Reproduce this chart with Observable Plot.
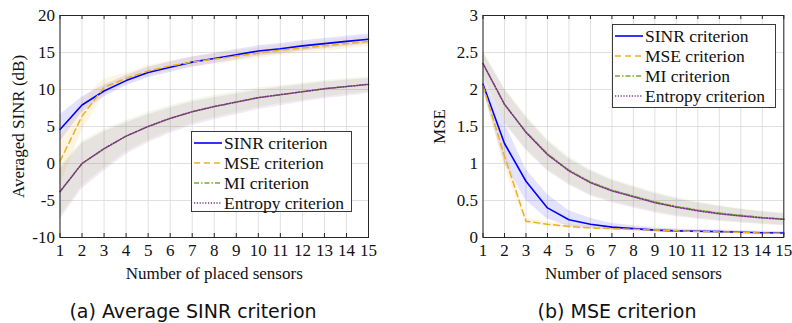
<!DOCTYPE html>
<html>
<head>
<meta charset="utf-8">
<script src="https://cdn.jsdelivr.net/npm/d3@7"></script>
<script src="https://cdn.jsdelivr.net/npm/@observablehq/plot@0.6"></script>
<style>
  html, body { margin: 0; padding: 0; background: #fff; }
  #wrap { position: relative; width: 792px; height: 323px; overflow: hidden; background: #fff; }
  .panel { position: absolute; top: 0; }
  .legend { position: absolute; background: #fff; border: 1px solid #3a3a3a; font-family: 'Liberation Serif'; font-size: 17.5px; color: #111; padding: 1px 3px 1px 2px; box-sizing: border-box; }
  .legend .row { display: flex; align-items: center; height: 20px; white-space: nowrap; }
  .legend svg { margin-right: 2px; }
  .caption { position: absolute; font-family: 'DejaVu Sans'; font-size: 19px; color: #111; white-space: nowrap; transform: translateX(-50%); }
</style>
</head>
<body>
<div id="wrap"></div>
<script>
// ---- data ----
const sensors = [1, 2, 3, 4, 5, 6, 7, 8, 9, 10, 11, 12, 13, 14, 15];
const seriesNames = ["SINR criterion", "MSE criterion", "MI criterion", "Entropy criterion"];
const seriesColors = ["#0000ff", "#edb120", "#77ac30", "#7e2f8e"];

// (a) Average SINR (dB)
const sinrA      = [4.6, 7.9, 9.8, 11.2, 12.3, 13.0, 13.7, 14.2, 14.7, 15.2, 15.5, 15.9, 16.2, 16.5, 16.8];
const sinrA_lo   = [2.9, 6.9, 9.0, 10.5, 11.6, 12.3, 13.0, 13.5, 14.0, 14.5, 14.8, 15.2, 15.5, 15.8, 16.1];
const sinrA_hi   = [6.6, 9.0, 10.6, 11.9, 13.0, 13.7, 14.4, 14.9, 15.4, 15.9, 16.2, 16.6, 16.9, 17.2, 17.5];
const mseA       = [0.3, 6.4, 10.3, 11.5, 12.5, 13.2, 13.7, 14.1, 14.5, 14.9, 15.3, 15.6, 15.9, 16.2, 16.5];
const mseA_lo    = [-3.0, 4.5, 9.3, 10.8, 11.8, 12.5, 13.0, 13.4, 13.8, 14.2, 14.6, 14.9, 15.2, 15.5, 15.8];
const mseA_hi    = [3.5, 8.6, 11.4, 12.2, 13.2, 13.9, 14.4, 14.8, 15.2, 15.6, 16.0, 16.3, 16.6, 16.9, 17.2];
const miA        = [-3.8, 0.0, 2.0, 3.7, 5.0, 6.1, 7.0, 7.7, 8.3, 8.9, 9.3, 9.7, 10.1, 10.4, 10.7];
const miA_lo     = [-7.2, -3.0, -0.6, 1.6, 3.1, 4.4, 5.4, 6.2, 6.9, 7.6, 8.1, 8.55, 9.0, 9.35, 9.7];
const miA_hi     = [-0.4, 3.0, 4.6, 5.8, 6.9, 7.8, 8.6, 9.2, 9.7, 10.2, 10.5, 10.85, 11.2, 11.45, 11.7];
const entA       = [-3.8, 0.0, 2.0, 3.7, 5.0, 6.1, 7.0, 7.7, 8.3, 8.9, 9.3, 9.7, 10.1, 10.4, 10.7];
const entA_lo    = [-7.6, -3.4, -1.0, 1.2, 2.8, 4.1, 5.1, 5.9, 6.6, 7.3, 7.8, 8.3, 8.75, 9.1, 9.5];
const entA_hi    = [-0.8, 2.7, 4.3, 5.5, 6.6, 7.5, 8.3, 8.9, 9.4, 9.9, 10.3, 10.65, 11.0, 11.25, 11.5];

// (b) MSE
const sinrB      = [2.07, 1.27, 0.76, 0.40, 0.24, 0.18, 0.14, 0.12, 0.10, 0.09, 0.085, 0.08, 0.07, 0.065, 0.06];
const sinrB_lo   = [2.00, 1.00, 0.50, 0.25, 0.15, 0.12, 0.10, 0.09, 0.075, 0.07, 0.065, 0.06, 0.055, 0.05, 0.045];
const sinrB_hi   = [2.15, 1.55, 0.92, 0.58, 0.36, 0.26, 0.19, 0.16, 0.13, 0.115, 0.105, 0.10, 0.09, 0.085, 0.08];
const mseB       = [2.05, 1.10, 0.22, 0.18, 0.15, 0.13, 0.12, 0.11, 0.10, 0.09, 0.08, 0.075, 0.07, 0.06, 0.055];
const mseB_lo    = [2.00, 0.95, 0.19, 0.15, 0.12, 0.11, 0.10, 0.09, 0.085, 0.075, 0.07, 0.065, 0.06, 0.05, 0.045];
const mseB_hi    = [2.10, 1.25, 0.26, 0.21, 0.18, 0.16, 0.14, 0.13, 0.12, 0.105, 0.095, 0.09, 0.08, 0.07, 0.065];
const miB        = [2.35, 1.80, 1.43, 1.13, 0.91, 0.75, 0.64, 0.56, 0.48, 0.42, 0.37, 0.33, 0.30, 0.27, 0.25];
const miB_lo     = [2.18, 1.56, 1.20, 0.92, 0.73, 0.58, 0.49, 0.42, 0.35, 0.30, 0.26, 0.23, 0.21, 0.185, 0.17];
const miB_hi     = [2.52, 2.02, 1.65, 1.33, 1.09, 0.92, 0.79, 0.70, 0.61, 0.54, 0.48, 0.43, 0.39, 0.355, 0.33];
const entB       = [2.35, 1.80, 1.42, 1.12, 0.90, 0.74, 0.63, 0.55, 0.47, 0.41, 0.36, 0.32, 0.29, 0.265, 0.245];
const entB_lo    = [2.16, 1.54, 1.18, 0.90, 0.71, 0.56, 0.47, 0.40, 0.33, 0.28, 0.245, 0.215, 0.195, 0.175, 0.16];
const entB_hi    = [2.50, 2.00, 1.62, 1.30, 1.06, 0.90, 0.77, 0.68, 0.59, 0.52, 0.465, 0.42, 0.38, 0.345, 0.32];

const xTicks = [1, 2, 3, 4, 5, 6, 7, 8, 9, 10, 11, 12, 13, 14, 15];
const yTicksA = [-10, -5, 0, 5, 10, 15, 20];
const yTicksB = [0, 0.5, 1, 1.5, 2, 2.5, 3];

// ---- drawing ----
const dashes = [null, "6,4", "5,2,1.5,2", "1.2,1.6"];
const bandOpacity = [0.11, 0.13, 0.10, 0.10];

function rows(v, lo, hi) {
  return sensors.map((x, i) => ({x, y: v[i], lo: lo[i], hi: hi[i]}));
}

function panel({series, yDomain, yTicks, yLabel, width, height, mTop, mBottom, mLeft, mRight, yLabelOffset}) {
  const ph = height - mTop - mBottom;
  const marks = [
    Plot.gridX(xTicks, {stroke: "#d8d8d8", strokeOpacity: 1, strokeWidth: 0.8}),
    Plot.gridY(yTicks, {stroke: "#d8d8d8", strokeOpacity: 1, strokeWidth: 0.8})
  ];
  series.forEach((s, k) => {
    marks.push(Plot.areaY(s, {x: "x", y1: "lo", y2: "hi", fill: seriesColors[k], fillOpacity: bandOpacity[k]}));
  });
  series.forEach((s, k) => {
    marks.push(Plot.line(s, {x: "x", y: "y", stroke: seriesColors[k], strokeWidth: k === 0 ? 1.6 : 1.5,
      strokeDasharray: dashes[k]}));
  });
  marks.push(
    Plot.tickX(xTicks, {x: d => d, insetTop: ph - 4, stroke: "#262626"}),
    Plot.tickX(xTicks, {x: d => d, insetBottom: ph - 4, stroke: "#262626"}),
    Plot.frame({stroke: "#262626", strokeWidth: 1}),
    Plot.axisX(xTicks, {tickSize: 0, tickPadding: 6, tickFormat: d => String(d), label: "Number of placed sensors",
      labelAnchor: "center", labelOffset: 41, labelArrow: "none"}),
    Plot.axisY(yTicks, {tickSize: 0, tickPadding: 5, tickFormat: d => String(d), label: yLabel,
      labelAnchor: "center", labelOffset: yLabelOffset, labelArrow: "none"})
  );
  return Plot.plot({
    width, height,
    marginTop: mTop, marginBottom: mBottom, marginLeft: mLeft, marginRight: mRight,
    x: {domain: [1, 15]},
    y: {domain: yDomain},
    style: "font-family: 'Liberation Serif'; font-size: 17px; color: #111; background: transparent; overflow: visible;",
    marks
  });
}

const wrap = document.getElementById("wrap");

const pA = panel({
  series: [rows(sinrA, sinrA_lo, sinrA_hi), rows(mseA, mseA_lo, mseA_hi), rows(miA, miA_lo, miA_hi), rows(entA, entA_lo, entA_hi)],
  yDomain: [-10, 20], yTicks: yTicksA, yLabel: "Averaged SINR (dB)",
  width: 400, height: 290, mTop: 15, mBottom: 53, mLeft: 59.5, mRight: 32, yLabelOffset: 48
});
const dA = document.createElement("div"); dA.className = "panel"; dA.style.left = "0px"; dA.appendChild(pA); wrap.appendChild(dA);

const pB = panel({
  series: [rows(sinrB, sinrB_lo, sinrB_hi), rows(mseB, mseB_lo, mseB_hi), rows(miB, miB_lo, miB_hi), rows(entB, entB_lo, entB_hi)],
  yDomain: [0, 3], yTicks: yTicksB, yLabel: "MSE",
  width: 392, height: 290, mTop: 15, mBottom: 53, mLeft: 82.5, mRight: 8.7, yLabelOffset: 50
});
const dB = document.createElement("div"); dB.className = "panel"; dB.style.left = "400px"; dB.appendChild(pB); wrap.appendChild(dB);

function legend(left, top, width, height) {
  const el = document.createElement("div");
  el.className = "legend";
  Object.assign(el.style, {left: left + "px", top: top + "px", width: width + "px", height: height + "px"});
  seriesNames.forEach((name, k) => {
    const row = document.createElement("div");
    row.className = "row";
    const ns = "http://www.w3.org/2000/svg";
    const svg = document.createElementNS(ns, "svg");
    svg.setAttribute("width", 28); svg.setAttribute("height", 10);
    const ln = document.createElementNS(ns, "line");
    ln.setAttribute("x1", 0); ln.setAttribute("x2", 28); ln.setAttribute("y1", 5); ln.setAttribute("y2", 5);
    ln.setAttribute("stroke", seriesColors[k]); ln.setAttribute("stroke-width", 1.6);
    if (dashes[k]) ln.setAttribute("stroke-dasharray", dashes[k]);
    svg.appendChild(ln); row.appendChild(svg);
    const t = document.createElement("span"); t.textContent = name; row.appendChild(t);
    el.appendChild(row);
  });
  wrap.appendChild(el);
}
legend(191, 131, 161, 81);
legend(612, 24, 164, 84);

function caption(text, cx, top) {
  const el = document.createElement("div");
  el.className = "caption"; el.textContent = text;
  el.style.left = cx + "px"; el.style.top = top + "px";
  wrap.appendChild(el);
}
caption("(a) Average SINR criterion", 193, 300);
caption("(b) MSE criterion", 617, 300);
</script>
</body>
</html>
